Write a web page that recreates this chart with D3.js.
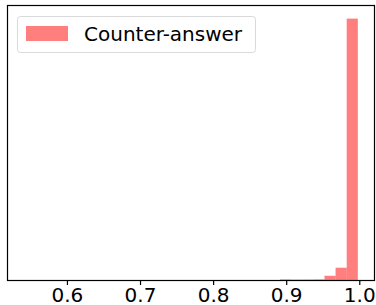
<!DOCTYPE html>
<html>
<head>
<meta charset="utf-8">
<script src="https://cdn.jsdelivr.net/npm/d3@7"></script>
<style>
  html, body { margin: 0; padding: 0; background: #fff; }
  svg text { font-family: "DejaVu Sans", sans-serif; }
</style>
</head>
<body>
<svg id="chart" width="376" height="305"></svg>
<script>
// histogram: 30 equal bins between dataMin and dataMax
const dataMin = 0.5415;
const dataMax = 0.998;
const binCounts = [
  1, 0, 0, 0, 0, 0, 0, 0, 0, 0,
  0, 0, 0, 0, 0, 0, 0, 0, 0, 0,
  0, 0, 0, 18, 15, 16, 18, 78, 210, 4300
];
const xTicks = [0.6, 0.7, 0.8, 0.9, 1.0];
const seriesName = 'Counter-answer';

const svg = d3.select('#chart');
const plot = { left: 7.5, right: 374.5, top: 5.5, bottom: 280.5 };

const range = dataMax - dataMin;
const binW = range / binCounts.length;
const bins = binCounts.map((c, i) => ({ x0: dataMin + i * binW, x1: dataMin + (i + 1) * binW, count: c }));

// matplotlib-style 5% margins on x, 5% headroom on y
const x = d3.scaleLinear()
  .domain([dataMin - 0.05 * range, dataMax + 0.05 * range])
  .range([plot.left, plot.right]);
const y = d3.scaleLinear()
  .domain([0, d3.max(binCounts) * 1.05])
  .range([plot.bottom, plot.top]);

svg.append('g').selectAll('rect')
  .data(bins.filter(d => d.count > 0))
  .join('rect')
  .attr('x', d => x(d.x0))
  .attr('width', d => x(d.x1) - x(d.x0))
  .attr('y', d => y(d.count))
  .attr('height', d => y(0) - y(d.count))
  .attr('fill', 'rgba(255,0,0,0.5)');

// frame
svg.append('rect')
  .attr('x', plot.left).attr('y', plot.top)
  .attr('width', plot.right - plot.left).attr('height', plot.bottom - plot.top)
  .attr('fill', 'none').attr('stroke', '#000').attr('stroke-width', 1.2);

const xAxis = svg.append('g')
  .attr('transform', `translate(0,${plot.bottom})`)
  .call(d3.axisBottom(x).tickValues(xTicks).tickFormat(d3.format('.1f')).tickSize(4.5).tickPadding(3));
xAxis.select('.domain').remove();
xAxis.selectAll('line').attr('stroke', '#000').attr('stroke-width', 1.2);
xAxis.selectAll('text').attr('font-size', 20).attr('fill', '#000')
  .attr('dy', null).attr('y', 21.5);

// legend
const lg = svg.append('g');
lg.append('rect')
  .attr('x', 17.5).attr('y', 16.5).attr('width', 238).attr('height', 36)
  .attr('rx', 3).attr('fill', '#fff').attr('fill-opacity', 0.8)
  .attr('stroke', '#d9d9d9').attr('stroke-width', 1);
lg.append('rect')
  .attr('x', 26).attr('y', 26).attr('width', 42).attr('height', 15)
  .attr('fill', 'rgba(255,0,0,0.5)');
lg.append('text')
  .attr('x', 84).attr('y', 41)
  .attr('font-size', 20).attr('fill', '#000')
  .text(seriesName);
</script>
</body>
</html>
